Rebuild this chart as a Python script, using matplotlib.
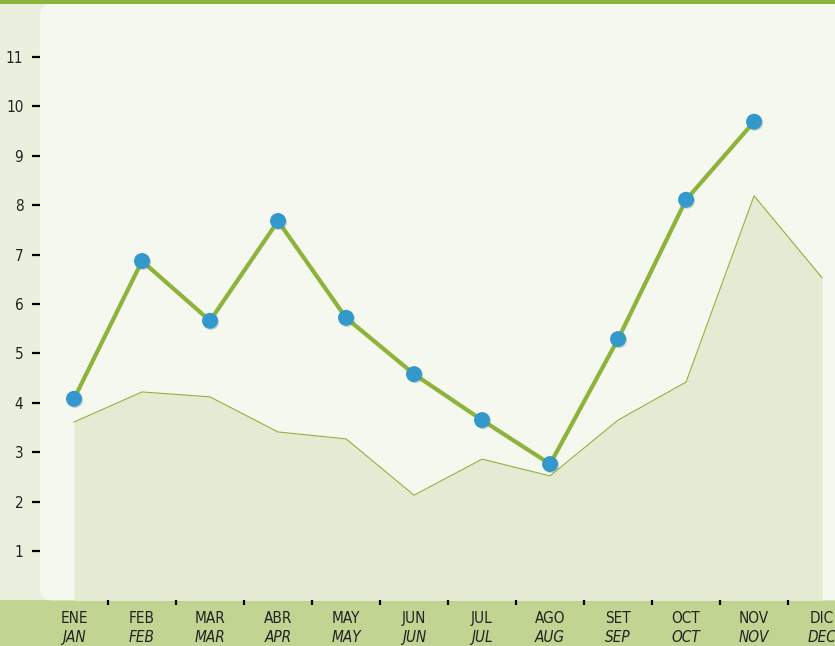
import numpy as np
import matplotlib
matplotlib.use("Agg")
import matplotlib.pyplot as plt
from matplotlib.patches import Rectangle, FancyBboxPatch
import matplotlib.patheffects as pe
import matplotlib.transforms as mtransforms

plt.rcParams['font.family'] = ['DejaVu Sans']
plt.rcParams['font.stretch'] = 'condensed'

months_es = ["ENE", "FEB", "MAR", "ABR", "MAY", "JUN", "JUL", "AGO", "SET", "OCT", "NOV", "DIC"]
months_en = ["JAN", "FEB", "MAR", "APR", "MAY", "JUN", "JUL", "AUG", "SEP", "OCT", "NOV", "DEC"]
line_vals = [4.08, 6.87, 5.66, 7.68, 5.72, 4.58, 3.65, 2.76, 5.29, 8.11, 9.69]
area_vals = [3.61, 4.22, 4.12, 3.41, 3.27, 2.13, 2.86, 2.52, 3.65, 4.42, 8.19, 6.53]
yticks = list(range(1, 12))

green = "#8db33a"
blue = "#3399cc"
band = "#c2d492"
outer_bg = "#ebf0de"
panel_bg = "#f5f8ee"
area_fill = "#e5ebd2"

W, H = 835, 646
fig = plt.figure(figsize=(W / 100, H / 100), dpi=100)
fig.patch.set_facecolor(outer_bg)

# bottom band and top stripe
fig.add_artist(Rectangle((0, 0), 1, 45.6 / H, transform=fig.transFigure,
                         facecolor=band, edgecolor="none", zorder=0))
fig.add_artist(Rectangle((0, 1 - 3.5 / H), 1, 3.5 / H, transform=fig.transFigure,
                         facecolor=green, edgecolor="none", zorder=0))

ax = fig.add_axes([40 / W, 45.6 / H, 1 - 40 / W, 1 - 45.6 / H])
ax.set_facecolor("none")
ax.set_xlim(-0.5, 11.19)
ax.set_ylim(0, 12.154)

# rounded panel
panel = FancyBboxPatch((0, 0), 1.2, (600.4 - 4) / 600.4, boxstyle="round,pad=0,rounding_size=0.015",
                       transform=ax.transAxes, facecolor=panel_bg, edgecolor="none",
                       zorder=0, clip_on=False, mutation_aspect=795 / 600)
ax.add_patch(panel)

x_area = np.arange(len(area_vals))
ax.fill_between(x_area, 0, area_vals, color=area_fill, zorder=1, linewidth=0)
ax.plot(x_area, area_vals, color=green, lw=0.8, zorder=2)

x_line = np.arange(len(line_vals))
ax.plot(x_line, line_vals, color=green, lw=3, zorder=3, solid_capstyle="round")
ax.plot(x_line, line_vals, linestyle="none", marker="o", ms=11.5, mfc=blue, mec="none", zorder=4,
        path_effects=[pe.SimplePatchShadow(offset=(0.8, -0.8), shadow_rgbFace="#777777", alpha=0.3),
                      pe.Normal()])

for s in ax.spines.values():
    s.set_visible(False)

ax.set_yticks(yticks)
ax.set_yticklabels([str(v) for v in yticks], fontsize=11, color="#222222")
ax.tick_params(axis="y", direction="out", length=6, width=1.6, color="black", pad=6)

ax.set_xticks(np.arange(0.5, 11, 1))
ax.set_xticklabels([])
ax.tick_params(axis="x", direction="out", length=3.5, width=1.6, color="black")

tr = ax.get_xaxis_transform()
for i, (es, en) in enumerate(zip(months_es, months_en)):
    ax.text(i, 0, es, transform=tr + mtransforms.ScaledTranslation(0, -18 / 100, fig.dpi_scale_trans),
            ha="center", va="center", fontsize=11, color="#222222", clip_on=False)
    ax.text(i, 0, en, transform=tr + mtransforms.ScaledTranslation(0, -37 / 100, fig.dpi_scale_trans),
            ha="center", va="center", fontsize=11, style="italic", color="#222222", clip_on=False)

fig.savefig("out.png", dpi=100, facecolor=fig.get_facecolor())
